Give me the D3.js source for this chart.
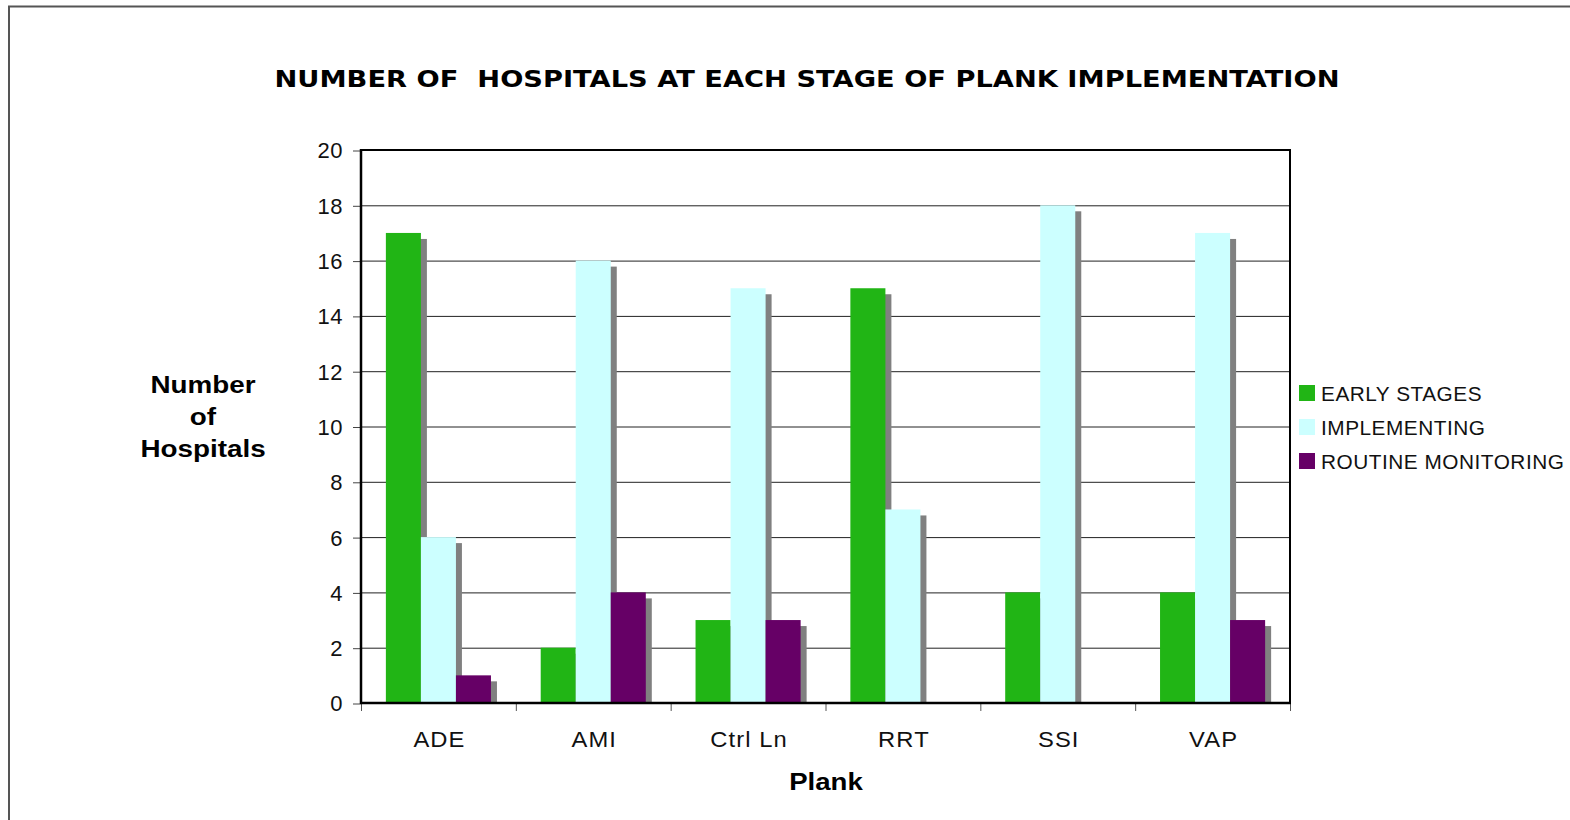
<!DOCTYPE html>
<html>
<head>
<meta charset="utf-8">
<script src="https://cdn.jsdelivr.net/npm/d3@7"></script>
<style>
  html, body { margin: 0; padding: 0; background: #fff; }
  svg { display: block; }
</style>
</head>
<body>
<svg id="chart" width="1570" height="820"></svg>
<script>
const categories = ["ADE", "AMI", "Ctrl Ln", "RRT", "SSI", "VAP"];
const seriesNames = ["EARLY STAGES", "IMPLEMENTING", "ROUTINE MONITORING"];
const earlyStages = [17, 2, 3, 15, 4, 4];
const implementing = [6, 16, 15, 7, 18, 17];
const routineMonitoring = [1, 4, 3, 0, 0, 3];
const yTicks = [0, 2, 4, 6, 8, 10, 12, 14, 16, 18, 20];
const colors = ["#21B515", "#CCFFFF", "#660066"];

const seriesValues = [earlyStages, implementing, routineMonitoring];
const data = categories.map((c, i) => ({
  cat: c,
  vals: seriesNames.map((s, j) => ({ series: s, value: seriesValues[j][i], idx: j }))
}));

const svg = d3.select("#chart");
const font = "'Liberation Sans', Arial, sans-serif";
const boldFont = "'DejaVu Sans', Verdana, sans-serif";

// outer border
svg.append("rect").attr("x", 9).attr("y", 6.5).attr("width", 1700).attr("height", 900)
  .attr("fill", "none").attr("stroke", "#555").attr("stroke-width", 2);

const L = 361, R = 1290, T = 150, B = 703;
const x = d3.scaleBand().domain(categories).range([L, R]).paddingInner(0).paddingOuter(0);
const xs = d3.scaleBand().domain(seriesNames).range([0, x.bandwidth()]).paddingInner(0).paddingOuter(0.71);
const y = d3.scaleLinear().domain([0, 20]).range([B, T]);

// gridlines
svg.append("g").selectAll("line").data(yTicks.filter(t => t > 0 && t < 20)).join("line")
  .attr("x1", L).attr("x2", R).attr("y1", d => y(d) + 0.5).attr("y2", d => y(d) + 0.5)
  .attr("stroke", "#222").attr("stroke-width", 1);

// y axis ticks and labels
const yAxis = d3.axisLeft(y).tickValues(yTicks).tickSize(8).tickPadding(10).tickFormat(d3.format("d"));
const gy = svg.append("g").attr("transform", `translate(${L},0)`).call(yAxis);
gy.select(".domain").remove();
gy.selectAll(".tick line").attr("stroke", "#444").attr("transform", "translate(0,0.5)");
gy.selectAll(".tick text").attr("font-family", font).attr("font-size", 22).attr("fill", "#111")
  .attr("dy", "0.36em").attr("letter-spacing", 0.5);

// x axis ticks at boundaries
const bounds = categories.map(c => x(c)).concat([R]);
svg.append("g").selectAll("line").data(bounds).join("line")
  .attr("x1", d => d + 0.5).attr("x2", d => d + 0.5).attr("y1", B).attr("y2", B + 8)
  .attr("stroke", "#555").attr("stroke-width", 1);

// shadows
const groups = svg.append("g");
const sh = 6;
groups.selectAll("g.sh").data(data).join("g").attr("class", "sh")
  .attr("transform", d => `translate(${x(d.cat)},0)`)
  .selectAll("rect").data(d => d.vals.filter(v => v.value > 0)).join("rect")
  .attr("x", v => xs(v.series) + sh)
  .attr("y", v => y(v.value) + sh)
  .attr("width", xs.bandwidth())
  .attr("height", v => Math.max(0, B - (y(v.value) + sh)))
  .attr("fill", "#808080");

// bars
groups.selectAll("g.bar").data(data).join("g").attr("class", "bar")
  .attr("transform", d => `translate(${x(d.cat)},0)`)
  .selectAll("rect").data(d => d.vals).join("rect")
  .attr("x", v => xs(v.series))
  .attr("y", v => y(v.value))
  .attr("width", xs.bandwidth())
  .attr("height", v => B - y(v.value))
  .attr("fill", v => colors[v.idx]);

// plot frame
svg.append("line").attr("x1", L).attr("x2", R + 1).attr("y1", T).attr("y2", T).attr("stroke", "#000").attr("stroke-width", 2);
svg.append("line").attr("x1", R).attr("x2", R).attr("y1", T).attr("y2", B).attr("stroke", "#000").attr("stroke-width", 2);
svg.append("line").attr("x1", L).attr("x2", L).attr("y1", T - 1).attr("y2", B + 1).attr("stroke", "#000").attr("stroke-width", 2.5);
svg.append("line").attr("x1", L).attr("x2", R + 1).attr("y1", B).attr("y2", B).attr("stroke", "#000").attr("stroke-width", 2.5);

// x labels
svg.append("g").selectAll("text").data(categories).join("text")
  .attr("transform", d => `translate(${x(d) + x.bandwidth() / 2 + 1},747) scale(1.08,1)`)
  .attr("text-anchor", "middle").attr("font-family", font).attr("font-size", 22).attr("fill", "#111")
  .attr("letter-spacing", 1)
  .text(d => d);

// title
svg.append("text").attr("x", 807).attr("y", 87).attr("text-anchor", "middle")
  .attr("font-family", boldFont).attr("font-weight", "bold").attr("font-size", 23)
  .attr("textLength", 1065).attr("lengthAdjust", "spacingAndGlyphs")
  .attr("fill", "#000").style("white-space", "pre")
  .text("NUMBER OF  HOSPITALS AT EACH STAGE OF PLANK IMPLEMENTATION");

// y title
const yt = ["Number", "of", "Hospitals"];
svg.append("g").selectAll("text").data(yt).join("text")
  .attr("transform", (d, i) => `translate(203,${393 + i * 32}) scale(1.21,1)`)
  .attr("text-anchor", "middle")
  .attr("font-family", font).attr("font-weight", "bold").attr("font-size", 23).attr("fill", "#000")
  .text(d => d);

// x title
svg.append("text").attr("transform", "translate(826,790) scale(1.2,1)").attr("text-anchor", "middle")
  .attr("font-family", font).attr("font-weight", "bold").attr("font-size", 23).attr("fill", "#000")
  .text("Plank");

// legend
const lg = svg.append("g").selectAll("g").data(seriesNames).join("g")
  .attr("transform", (d, i) => `translate(1299,${385 + i * 34})`);
lg.append("rect").attr("width", 16).attr("height", 16).attr("fill", (d, i) => colors[i]);
lg.append("text").attr("transform", "translate(22,16) scale(1.04,1)").attr("font-family", font).attr("font-size", 20)
  .attr("fill", "#111").attr("letter-spacing", 0.5).text(d => d);
</script>
</body>
</html>
